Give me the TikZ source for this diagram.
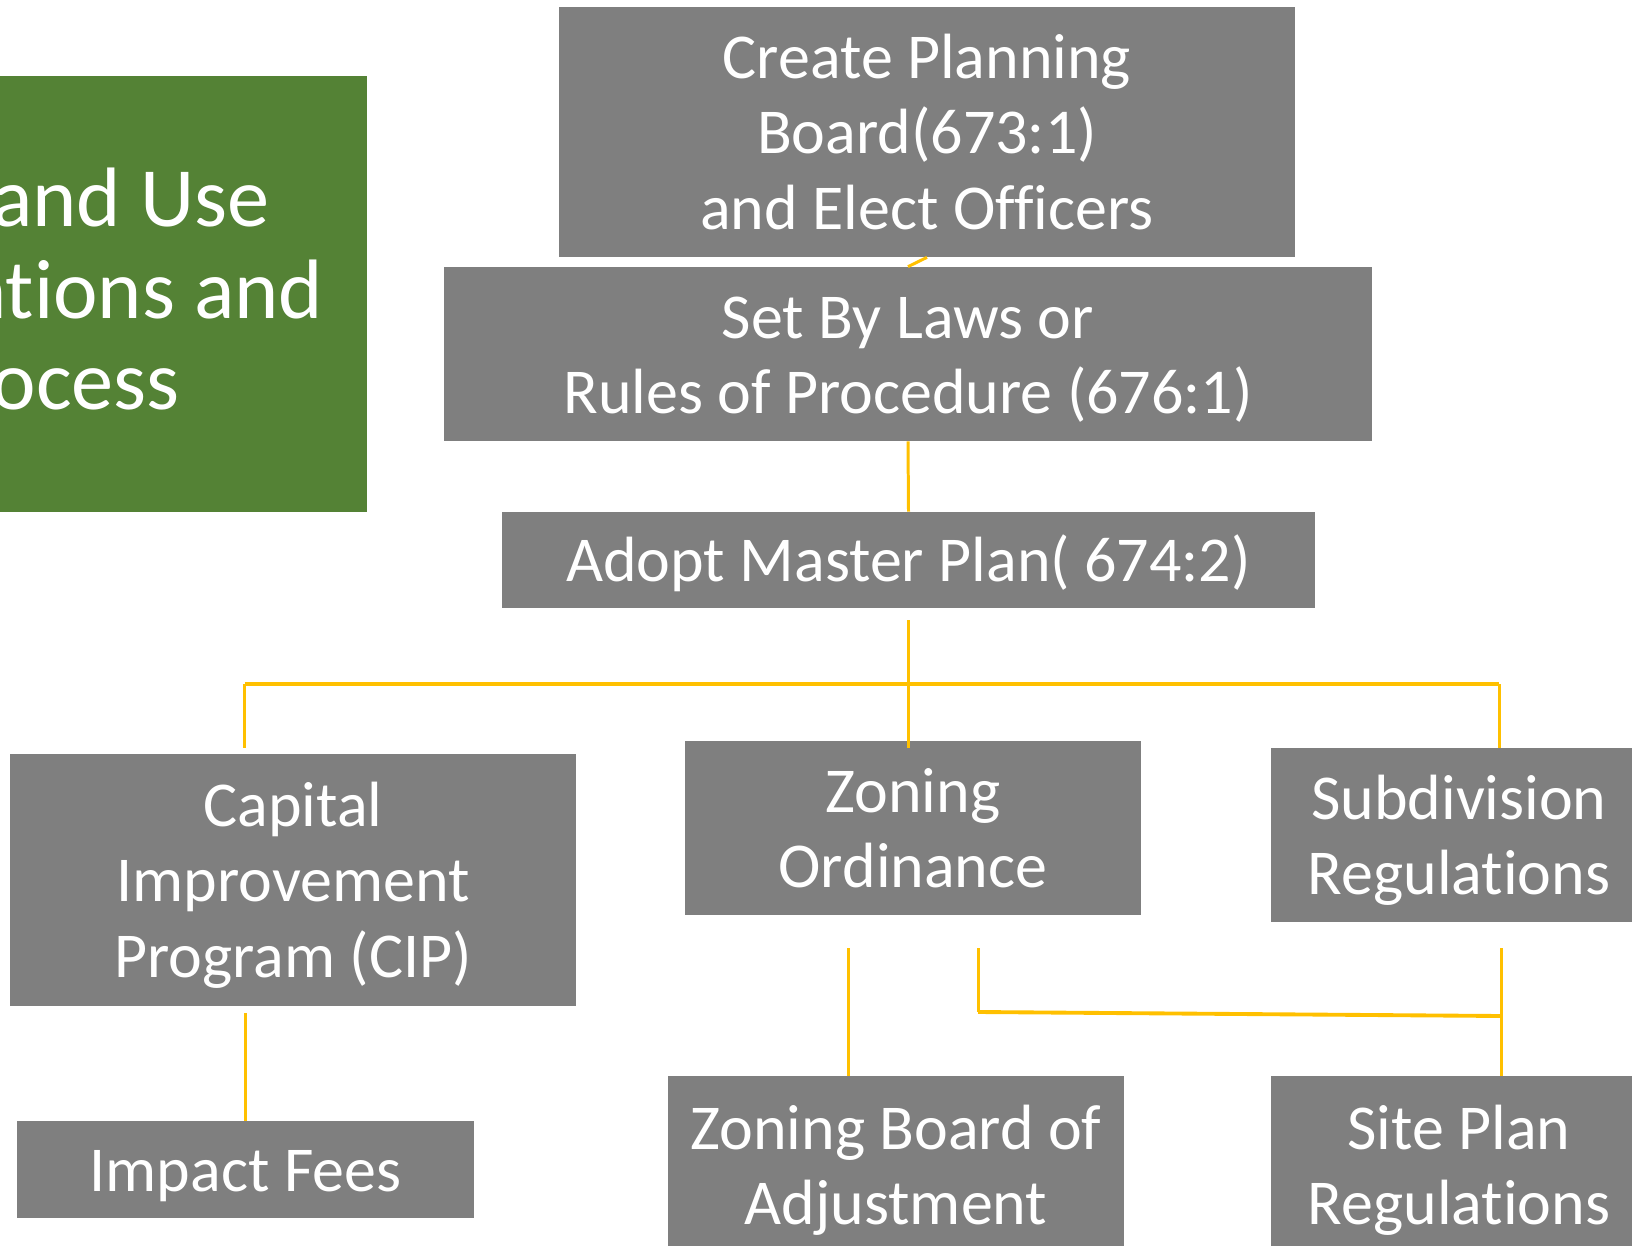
\documentclass[tikz,border=0pt]{standalone}
\usepackage{fontspec}
\setmainfont{Carlito}[Ligatures={NoCommon}]
\definecolor{boxgray}{HTML}{7F7F7F}
\definecolor{leafgreen}{HTML}{548235}
\definecolor{linkyellow}{HTML}{FFC000}
\newcommand\bxfont{\fontsize{36.4pt}{43pt}\selectfont}
\newcommand\ttlfont{\fontsize{48pt}{52pt}\selectfont}
% fixed ascent/descent for the first and last line of every box text
\newcommand\upstrut{\rule{0pt}{34.6pt}}
\newcommand\dnstrut{\rule[-9.8pt]{0pt}{0pt}}
\begin{document}
\begin{tikzpicture}[x=0.02cm, y=-0.02cm,
  sz/.style 2 args={minimum width=#1*0.02cm, minimum height=#2*0.02cm},
  stepbox/.style={fill=boxgray, text=white, inner sep=0pt, align=center, font=\bxfont},
  titlebox/.style={fill=leafgreen, text=white, inner sep=0pt, align=center, font=\ttlfont},
  link/.style={draw=linkyellow, line width=1.7pt},
  hlink/.style={draw=linkyellow, line width=2.2pt}]
\clip (0,0) rectangle (1632,1246);

% title panel (runs off the left edge)
\node[titlebox, sz={634}{436}] (title) at (50,294)
  {NH Land Use\\Regulations and\\Process\rule[-6pt]{0pt}{0pt}};

% process steps
\node[stepbox, sz={736}{250}] (create) at (927,132)
  {\upstrut Create Planning\\Board(673:1)\\and Elect Officers\dnstrut};
\node[stepbox, sz={928}{174}] (setby) at (908,354)
  {\upstrut Set By Laws or\\Rules of Procedure (676:1)\dnstrut};
\node[stepbox, sz={813}{96}] (adopt) at (908.5,560)
  {\upstrut Adopt Master Plan( 674:2)\dnstrut};

\node[stepbox, sz={566}{252}] (cip) at (293,880)
  {\upstrut Capital\\Improvement\\Program (CIP)\dnstrut};
\node[stepbox, sz={456}{174}] (zoning) at (913,828)
  {\upstrut Zoning\\Ordinance\dnstrut};
\node[stepbox, sz={376}{174}] (subdiv) at (1459,835)
  {\upstrut Subdivision\\Regulations\dnstrut};

\node[stepbox, sz={457}{97}] (impact) at (245.5,1169.5)
  {\upstrut Impact Fees\dnstrut};
\node[stepbox, sz={456}{178}] (zba) at (896,1165)
  {\upstrut Zoning Board of\\Adjustment\dnstrut};
\node[stepbox, sz={376}{178}] (siteplan) at (1459,1165)
  {\upstrut Site Plan\\Regulations\dnstrut};

% junction points of the connector tree
\coordinate (mp) at (908.6,620);
\coordinate (hubl) at (244.6,684);
\coordinate (hubr) at (1499,684);
\coordinate (zin) at (908.6,748);
\coordinate (cin) at (244.6,748);
\coordinate (sin) at (1499,748);
\coordinate (cout) at (245.5,1013);
\coordinate (zba1) at (848,948);
\coordinate (zba2) at (848,1076);
\coordinate (zo) at (978,948);
\coordinate (zbend) at (978,1012);
\coordinate (tee) at (1501,1016);
\coordinate (sdout) at (1501,948);
\coordinate (spin) at (1501,1076);

% connectors
\draw[link] (create.south) -- (setby.north);
\draw[link] (setby.south) -- (adopt.north);
\draw[link] (mp) -- (zin);
\draw[hlink] (hubl) -- (hubr);
\draw[link] (hubl) -- (cin);
\draw[link] (hubr) -- (sin);
\draw[link] (cout) -- (impact.north);
\draw[link] (zba1) -- (zba2);
\draw[link] (zo) -- (zbend);
\draw[hlink] (zbend) -- (tee);
\draw[link] (sdout) -- (spin);
\end{tikzpicture}
\end{document}
